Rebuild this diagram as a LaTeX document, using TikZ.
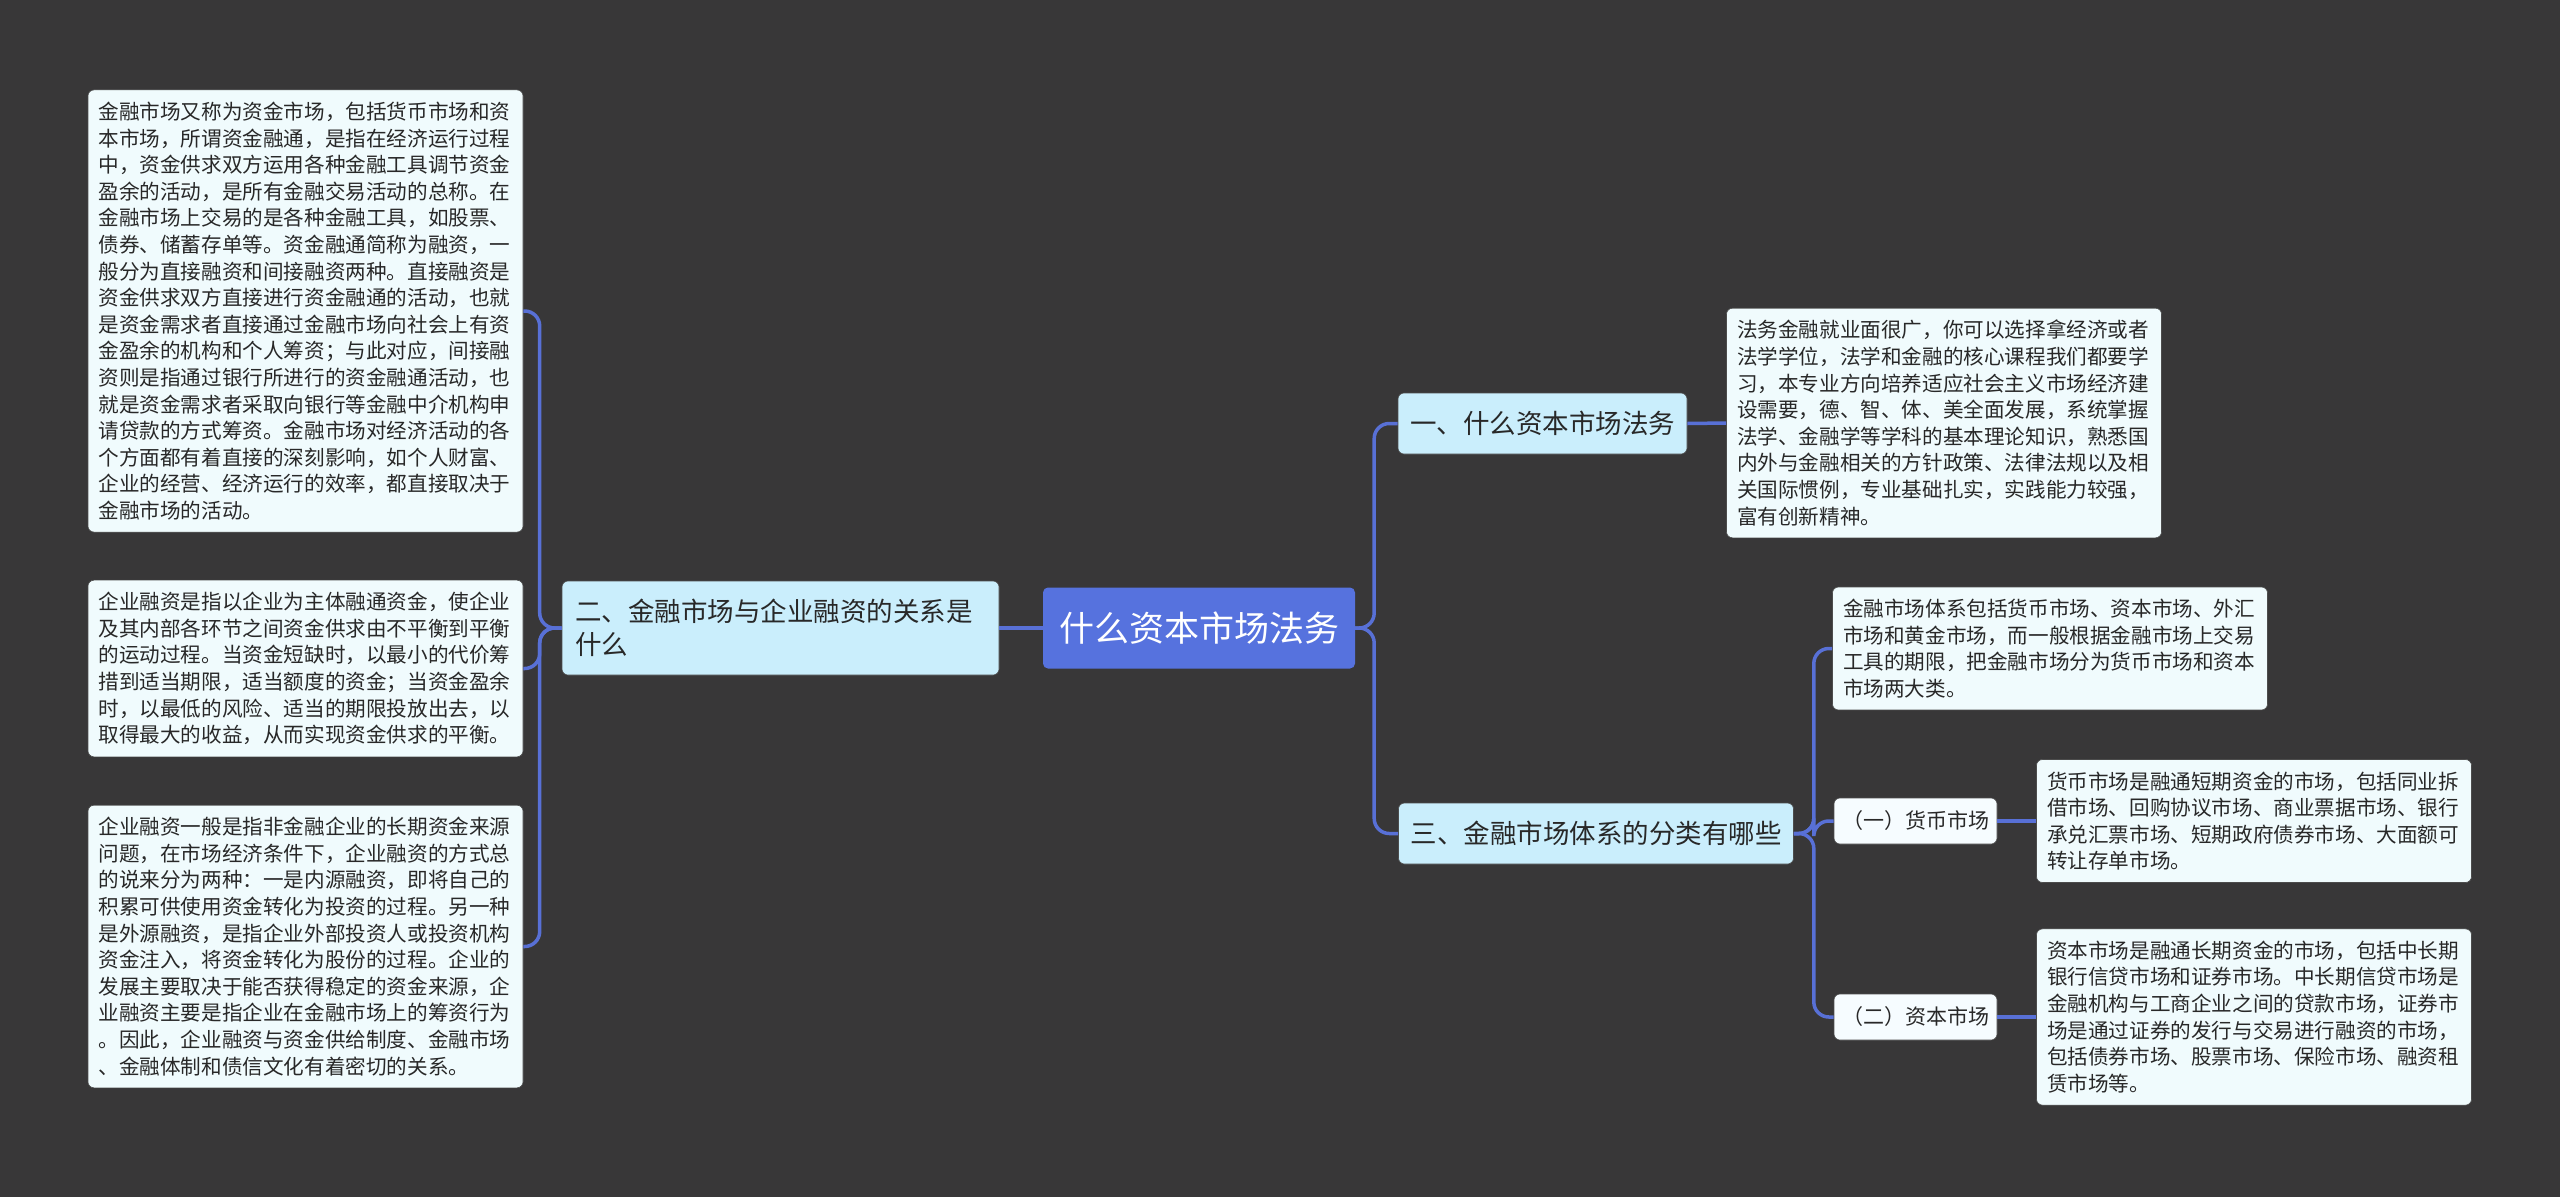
\documentclass[tikz,border=0pt]{standalone}
\usepackage{fontspec}
\usepackage{xcolor}
\usepackage{tikz}
\usetikzlibrary{positioning, calc}
\setmainfont{Noto Sans CJK SC}

\definecolor{bgdark}{RGB}{56,55,56}
\definecolor{rootblue}{RGB}{86,114,222}
\definecolor{linkblue}{RGB}{88,112,214}
\definecolor{branchfill}{RGB}{202,238,252}
\definecolor{leaffill}{RGB}{240,251,253}
\definecolor{subfill}{RGB}{246,252,255}
\definecolor{inktext}{RGB}{40,40,40}

\begin{document}
\begin{tikzpicture}[x=1pt, y=-1pt,
    rootnode/.style={draw=none, fill=rootblue, rounded corners=5pt, text=white,
        font=\fontsize{35}{42}\selectfont, inner xsep=16pt, minimum height=81pt},
    branch/.style={draw=black!70, line width=0.6pt, fill=branchfill, rounded corners=6pt, text=inktext,
        font=\fontsize{26.5}{33}\selectfont, inner xsep=12pt, minimum height=61pt},
    subnode/.style={draw=black!70, line width=0.6pt, fill=subfill, rounded corners=6pt, text=inktext,
        font=\fontsize{21}{26}\selectfont, inner xsep=8pt, minimum height=46pt},
    leaf/.style={draw=black!70, line width=0.6pt, fill=leaffill, rounded corners=6pt, text=inktext,
        font=\fontsize{20.6}{26.6}\selectfont, align=left, text width=414pt, inner xsep=10.5pt, inner ysep=12pt},
    link/.style={draw=linkblue, line width=3.5pt, rounded corners=15pt}]

    \fill[bgdark] (0,0) rectangle (2560,1197);
    \useasboundingbox (0,0) rectangle (2560,1197);

    \node[rootnode] (root) at (1199, 628) {什么资本市场法务};

    \node[branch, align=left, text width=411pt, inner xsep=13pt, minimum height=94pt] (lb) at (780.5, 628)
        {二、金融市场与企业融资的关系是\\什么};
    \node[branch] (b1) at (1542.5, 423.5) {一、什么资本市场法务};
    \node[branch] (b3) at (1596, 833.5) {三、金融市场体系的分类有哪些};

    \node[leaf] (t1) at (305.5, 311) {金融市场又称为资金市场，包括货币市场和资\\本市场，所谓资金融通，是指在经济运行过程\\中，资金供求双方运用各种金融工具调节资金\\盈余的活动，是所有金融交易活动的总称。在\\金融市场上交易的是各种金融工具，如股票、\\债券、储蓄存单等。资金融通简称为融资，一\\般分为直接融资和间接融资两种。直接融资是\\资金供求双方直接进行资金融通的活动，也就\\是资金需求者直接通过金融市场向社会上有资\\金盈余的机构和个人筹资；与此对应，间接融\\资则是指通过银行所进行的资金融通活动，也\\就是资金需求者采取向银行等金融中介机构申\\请贷款的方式筹资。金融市场对经济活动的各\\个方面都有着直接的深刻影响，如个人财富、\\企业的经营、经济运行的效率，都直接取决于\\金融市场的活动。};
    \node[leaf] (t2) at (305.5, 668.5) {企业融资是指以企业为主体融通资金，使企业\\及其内部各环节之间资金供求由不平衡到平衡\\的运动过程。当资金短缺时，以最小的代价筹\\措到适当期限，适当额度的资金；当资金盈余\\时，以最低的风险、适当的期限投放出去，以\\取得最大的收益，从而实现资金供求的平衡。};
    \node[leaf] (t3) at (305.5, 946.5) {企业融资一般是指非金融企业的长期资金来源\\问题，在市场经济条件下，企业融资的方式总\\的说来分为两种：一是内源融资，即将自己的\\积累可供使用资金转化为投资的过程。另一种\\是外源融资，是指企业外部投资人或投资机构\\资金注入，将资金转化为股份的过程。企业的\\发展主要取决于能否获得稳定的资金来源，企\\业融资主要是指企业在金融市场上的筹资行为\\。因此，企业融资与资金供给制度、金融市场\\、金融体制和债信文化有着密切的关系。};

    \node[leaf] (r1) at (1944, 423) {法务金融就业面很广，你可以选择拿经济或者\\法学学位，法学和金融的核心课程我们都要学\\习，本专业方向培养适应社会主义市场经济建\\设需要，德、智、体、美全面发展，系统掌握\\法学、金融学等学科的基本理论知识，熟悉国\\内外与金融相关的方针政策、法律法规以及相\\关国际惯例，专业基础扎实，实践能力较强，\\富有创新精神。};
    \node[leaf] (r2) at (2050, 648.5) {金融市场体系包括货币市场、资本市场、外汇\\市场和黄金市场，而一般根据金融市场上交易\\工具的期限，把金融市场分为货币市场和资本\\市场两大类。};

    \node[subnode] (s1) at (1915.5, 821) {（一）货币市场};
    \node[subnode] (s2) at (1915.5, 1017) {（二）资本市场};

    \node[leaf] (r3) at (2254, 821) {货币市场是融通短期资金的市场，包括同业拆\\借市场、回购协议市场、商业票据市场、银行\\承兑汇票市场、短期政府债券市场、大面额可\\转让存单市场。};
    \node[leaf] (r4) at (2254, 1017) {资本市场是融通长期资金的市场，包括中长期\\银行信贷市场和证券市场。中长期信贷市场是\\金融机构与工商企业之间的贷款市场，证券市\\场是通过证券的发行与交易进行融资的市场，\\包括债券市场、股票市场、保险市场、融资租\\赁市场等。};

    \draw[link] (root.west) -- (lb.east);
    \draw[link] (root.east) -- ++(19,0) |- (b1.west);
    \draw[link] (root.east) -- ++(19,0) |- (b3.west);
    \draw[link] (lb.west) -- ++(-22,0) |- (t1.east);
    \draw[link] (lb.west) -- ++(-22,0) |- (t2.east);
    \draw[link] (lb.west) -- ++(-22,0) |- (t3.east);
    \draw[link] (b1.east) -- (r1.west);
    \draw[link] (b3.east) -- ++(20,0) |- (r2.west);
    \draw[link] (b3.east) -- ++(20,0) |- (s1.west);
    \draw[link] (b3.east) -- ++(20,0) |- (s2.west);
    \draw[link] (s1.east) -- (r3.west);
    \draw[link] (s2.east) -- (r4.west);
\end{tikzpicture}
\end{document}
